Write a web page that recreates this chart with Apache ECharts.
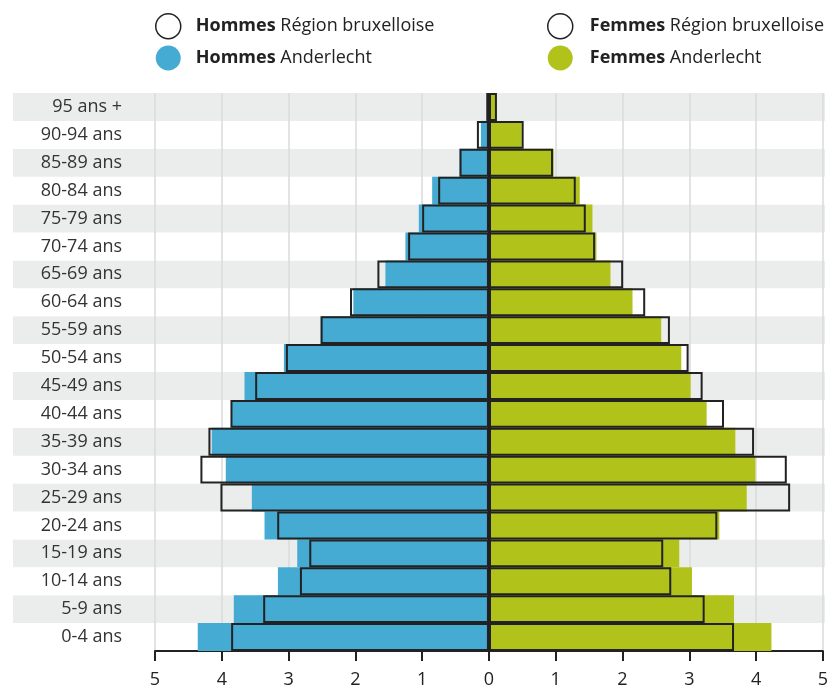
<!DOCTYPE html>
<html>
<head>
<meta charset="utf-8">
<script src="https://cdn.jsdelivr.net/npm/echarts@6/dist/echarts.min.js"></script>
<style>
html,body{margin:0;padding:0;background:#fff;}
#chart{width:831px;height:689px;}
</style>
</head>
<body>
<div id="chart"></div>
<script>
const categories = ['0-4 ans','5-9 ans','10-14 ans','15-19 ans','20-24 ans','25-29 ans','30-34 ans','35-39 ans','40-44 ans','45-49 ans','50-54 ans','55-59 ans','60-64 ans','65-69 ans','70-74 ans','75-79 ans','80-84 ans','85-89 ans','90-94 ans','95 ans +'];
const menAnderlecht   = [4.36,3.82,3.16,2.87,3.36,3.55,3.94,4.15,3.85,3.66,3.07,2.52,2.03,1.55,1.25,1.05,0.85,0.44,0.12,0.03];
const menRegion       = [3.86,3.38,2.83,2.69,3.17,4.02,4.32,4.20,3.87,3.50,3.04,2.52,2.08,1.67,1.21,1.00,0.76,0.44,0.18,0.04];
const womenAnderlecht = [4.23,3.67,3.04,2.85,3.45,3.86,3.99,3.69,3.26,3.02,2.88,2.58,2.15,1.82,1.61,1.55,1.36,0.97,0.49,0.11];
const womenRegion     = [3.67,3.23,2.73,2.61,3.42,4.51,4.46,3.97,3.52,3.20,2.99,2.71,2.34,2.01,1.59,1.45,1.30,0.96,0.52,0.12];
const xTicks = [-5,-4,-3,-2,-1,0,1,2,3,4,5];

const FONT = '"Open Sans", sans-serif';
const BLUE = '#45abd3';
const GREEN = '#b1c31b';
const DARK = '#222';

const names = {
  mr: 'Hommes Région bruxelloise',
  ma: 'Hommes Anderlecht',
  wr: 'Femmes Région bruxelloise',
  wa: 'Femmes Anderlecht'
};

const chart = echarts.init(document.getElementById('chart'), null, {renderer: 'canvas'});

function legendCfg(left, pad, data) {
  return {
    left: left, top: 8, orient: 'vertical', itemGap: 6,
    itemWidth: 25, itemHeight: 25, icon: 'circle',
    selectedMode: false,
    formatter: function (n) {
      const i = n.indexOf(' ');
      return '{b|' + n.slice(0, i) + '} {n|' + n.slice(i + 1) + '}';
    },
    textStyle: {
      fontFamily: FONT, fontSize: 18, color: DARK,
      rich: {
        b: {fontFamily: FONT, fontSize: 18, fontWeight: 'bold', color: DARK, padding: [0, 0, 0, pad]},
        n: {fontFamily: FONT, fontSize: 18, color: DARK}
      }
    },
    data: data
  };
}

const outlineStyle = {color: 'rgba(0,0,0,0)', borderColor: DARK, borderWidth: 2};

chart.setOption({
  animation: false,
  legend: [
    legendCfg(150, 10, [
      {name: names.mr, itemStyle: {color: '#fff', borderColor: DARK, borderWidth: 1.5}},
      {name: names.ma, itemStyle: {color: BLUE, borderWidth: 0}}
    ]),
    legendCfg(542, 12, [
      {name: names.wr, itemStyle: {color: '#fff', borderColor: DARK, borderWidth: 1.5}},
      {name: names.wa, itemStyle: {color: GREEN, borderWidth: 0}}
    ])
  ],
  grid: [
    {left: 155, right: 7, top: 93, bottom: 38, containLabel: false},
    {left: 13, right: 6, top: 93, bottom: 38, containLabel: false}
  ],
  xAxis: [
    {
      type: 'value', gridIndex: 0, min: -5, max: 5, interval: 1, z: 3,
      axisLine: {show: true, lineStyle: {color: DARK, width: 2}},
      axisTick: {show: true, length: 10, lineStyle: {color: DARK, width: 2}},
      axisLabel: {
        margin: 20, fontFamily: FONT, fontSize: 18, color: DARK,
        formatter: function (v) { return String(Math.abs(v)); }
      },
      splitLine: {show: true, lineStyle: {color: '#dadada', width: 1.5}}
    },
    {type: 'value', gridIndex: 1, min: 0, max: 1, show: false}
  ],
  yAxis: [
    {
      type: 'category', gridIndex: 0, data: categories, z: 3,
      axisLine: {show: false, onZero: false},
      axisTick: {show: false},
      axisLabel: {margin: 33, fontFamily: FONT, fontSize: 18, color: '#333'}
    },
    {
      type: 'category', gridIndex: 1, data: categories, z: 0,
      axisLine: {show: false, onZero: false},
      axisTick: {show: false},
      axisLabel: {show: false},
      splitLine: {show: false},
      splitArea: {show: true, areaStyle: {color: ['#ffffff', '#ebeded']}}
    }
  ],
  series: [
    {
      name: names.ma, type: 'bar', xAxisIndex: 0, yAxisIndex: 0,
      data: menAnderlecht.map(v => -v),
      barGap: '-100%', barCategoryGap: '0%', z: 4,
      itemStyle: {color: BLUE}
    },
    {
      name: names.wa, type: 'bar', xAxisIndex: 0, yAxisIndex: 0,
      data: womenAnderlecht,
      barGap: '-100%', barCategoryGap: '0%', z: 4,
      itemStyle: {color: GREEN}
    },
    {
      name: names.mr, type: 'bar', xAxisIndex: 0, yAxisIndex: 0,
      data: menRegion.map(v => -v),
      barGap: '-100%', barCategoryGap: '0%', z: 5,
      itemStyle: outlineStyle
    },
    {
      name: names.wr, type: 'bar', xAxisIndex: 0, yAxisIndex: 0,
      data: womenRegion,
      barGap: '-100%', barCategoryGap: '0%', z: 5,
      itemStyle: outlineStyle,
      markLine: {
        silent: true, symbol: 'none', animation: false,
        label: {show: false},
        lineStyle: {color: '#1a1a1a', width: 3, type: 'solid'},
        data: [{xAxis: 0}]
      }
    }
  ]
});
</script>
</body>
</html>
